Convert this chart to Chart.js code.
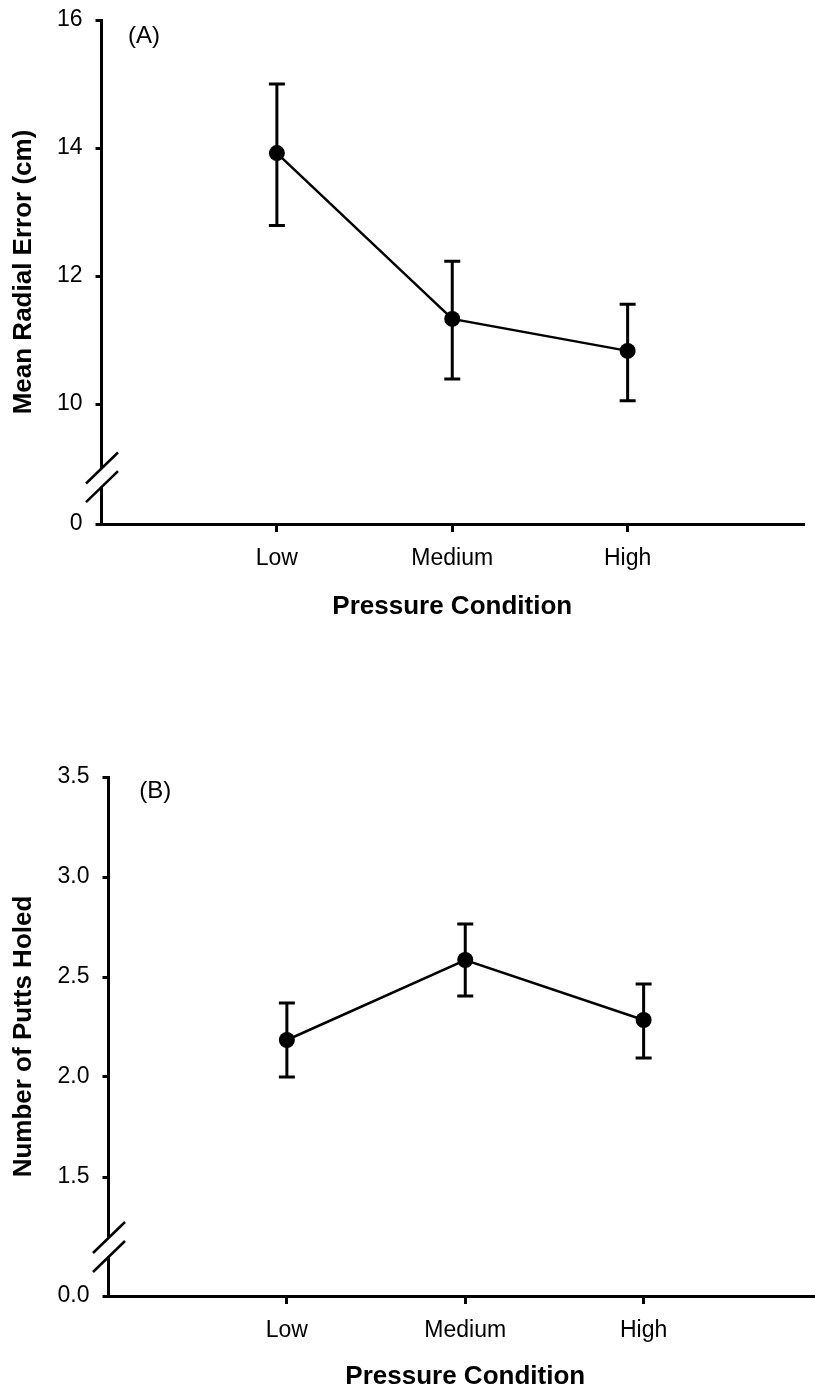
<!DOCTYPE html>
<html>
<head>
<meta charset="utf-8">
<script src="https://cdn.jsdelivr.net/npm/chart.js@4.4.1/dist/chart.umd.min.js"></script>
<style>
    html, body { margin: 0; padding: 0; background: #fff; overflow: hidden; }
    #contenedor { position: relative; width: 815px; height: 1392px; overflow: hidden; }
    canvas { position: absolute; left: 0; }
    #graficoA { top: 0; }
    #graficoB { top: 700px; }
</style>
</head>
<body>
<div id="contenedor">
    <canvas id="graficoA" width="815" height="640"></canvas>
    <canvas id="graficoB" width="830" height="692"></canvas>
</div>
<script>
// datos
const categorias = ['Low', 'Medium', 'High'];

const errorMedia = [13.92, 11.33, 10.83];
const errorSup = [15.0, 12.23, 11.56];
const errorInf = [12.79, 10.39, 10.05];
const ticksA = [10, 12, 14, 16];

const puttsMedia = [2.185, 2.585, 2.285];
const puttsSup = [2.37, 2.765, 2.465];
const puttsInf = [2.0, 2.405, 2.095];
const ticksB = [1.5, 2.0, 2.5, 3.0, 3.5];

const fuente = "'Liberation Sans', Arial, sans-serif";
Chart.defaults.font.family = fuente;
Chart.defaults.color = '#000';

// barras de error, corte del eje y etiqueta del panel
const extras = {
    id: 'extras',
    beforeDatasetsDraw(chart, args, opts) {
        const ctx = chart.ctx;
        const xs = chart.scales.x, ys = chart.scales.y;
        ctx.save();
        ctx.strokeStyle = '#000';
        ctx.lineWidth = 3;
        opts.sup.forEach((s, i) => {
            const x = xs.getPixelForValue(i + 1);
            const y1 = ys.getPixelForValue(s);
            const y2 = ys.getPixelForValue(opts.inf[i]);
            ctx.beginPath();
            ctx.moveTo(x, y1); ctx.lineTo(x, y2);
            ctx.moveTo(x - 8, y1); ctx.lineTo(x + 8, y1);
            ctx.moveTo(x - 8, y2); ctx.lineTo(x + 8, y2);
            ctx.stroke();
        });
        ctx.restore();
    },
    afterDraw(chart, args, opts) {
        const ctx = chart.ctx;
        const xs = chart.scales.x, ys = chart.scales.y;
        const xe = chart.chartArea.left;
        const c1 = ys.getPixelForValue(opts.corte[0]);
        const c2 = ys.getPixelForValue(opts.corte[1]);
        ctx.save();
        ctx.fillStyle = '#fff';
        ctx.fillRect(xe - 3, c1, 6, c2 - c1);
        ctx.strokeStyle = '#000';
        ctx.lineWidth = 2.5;
        [c1, c2].forEach(c => {
            ctx.beginPath();
            ctx.moveTo(xe - 15.5, c + 15.5);
            ctx.lineTo(xe + 16.5, c - 15.5);
            ctx.stroke();
        });
        ctx.fillStyle = '#000';
        ctx.font = '24px ' + fuente;
        ctx.textAlign = 'left';
        ctx.textBaseline = 'middle';
        ctx.fillText(opts.etiqueta, xs.getPixelForValue(opts.etiquetaPos[0]), ys.getPixelForValue(opts.etiquetaPos[1]));
        ctx.restore();
    }
};

function crearGrafico(id, cfg) {
    const ctx = document.getElementById(id).getContext('2d');
    const etiquetasY = [cfg.etiquetaCero].concat(cfg.ticks.map(v => cfg.decimales ? v.toFixed(1) : String(v)));
    new Chart(ctx, {
        type: 'line',
        data: {
            datasets: [{
                data: cfg.media.map((m, i) => ({ x: i + 1, y: m })),
                borderColor: '#000',
                borderWidth: 2.5,
                pointRadius: 8,
                pointBackgroundColor: '#000',
                pointBorderWidth: 0,
                tension: 0,
                clip: false
            }]
        },
        options: {
            responsive: false,
            animation: false,
            layout: { padding: cfg.padding },
            scales: {
                x: {
                    type: 'linear',
                    min: 0,
                    max: 4,
                    afterBuildTicks: s => { s.ticks = [1, 2, 3].map(v => ({ value: v })); },
                    afterFit: s => {
                        s.height = cfg.altoX;
                        s.paddingLeft = 0;
                        s.paddingRight = 0;
                    },
                    ticks: {
                        callback: (v, i) => categorias[i],
                        font: { size: 23 },
                        padding: 13,
                        autoSkip: false,
                        maxRotation: 0
                    },
                    grid: { drawOnChartArea: false, tickLength: 8, lineWidth: 3, color: '#000' },
                    border: { display: true, color: '#000', width: 3 },
                    title: {
                        display: true,
                        text: 'Pressure Condition',
                        font: { size: 26, weight: 'bold' },
                        padding: { top: 0, bottom: cfg.padTituloX }
                    }
                },
                y: {
                    type: 'linear',
                    min: cfg.yMin,
                    max: cfg.ticks[cfg.ticks.length - 1],
                    afterBuildTicks: s => { s.ticks = [cfg.yMin].concat(cfg.ticks).map(v => ({ value: v })); },
                    afterFit: s => {
                        s.width = cfg.anchoY;
                        s.paddingTop = 0;
                        s.paddingBottom = 0;
                    },
                    ticks: {
                        callback: (v, i) => etiquetasY[i],
                        font: { size: 23 },
                        padding: 13
                    },
                    grid: { drawOnChartArea: false, tickLength: 6, lineWidth: 3, color: '#000' },
                    border: { display: true, color: '#000', width: 3 },
                    title: {
                        display: true,
                        text: cfg.tituloY,
                        font: { size: 26, weight: 'bold' },
                        padding: { top: 8, bottom: 0 }
                    }
                }
            },
            plugins: {
                legend: { display: false },
                tooltip: { enabled: false },
                extras: {
                    sup: cfg.sup,
                    inf: cfg.inf,
                    corte: cfg.corte,
                    etiqueta: cfg.etiqueta,
                    etiquetaPos: cfg.etiquetaPos
                }
            }
        },
        plugins: [extras]
    });
}

document.addEventListener('DOMContentLoaded', function () {
    crearGrafico('graficoA', {
        media: errorMedia, sup: errorSup, inf: errorInf,
        ticks: ticksA, yMin: 8.125, etiquetaCero: '0', decimales: false,
        tituloY: 'Mean Radial Error (cm)',
        corte: [9.0, 8.71],
        etiqueta: '(A)', etiquetaPos: [0.151, 15.75],
        padding: { top: 20, left: 0, right: 12, bottom: 0 },
        anchoY: 101.5, altoX: 116, padTituloX: 18
    });
    crearGrafico('graficoB', {
        media: puttsMedia, sup: puttsSup, inf: puttsInf,
        ticks: ticksB, yMin: 0.905, etiquetaCero: '0.0', decimales: true,
        tituloY: 'Number of Putts Holed',
        corte: [1.1975, 1.1025],
        etiqueta: '(B)', etiquetaPos: [0.173, 3.43],
        padding: { top: 77, left: 0, right: 5, bottom: 0 },
        anchoY: 108.5, altoX: 96, padTituloX: 0
    });
});
</script>
</body>
</html>
